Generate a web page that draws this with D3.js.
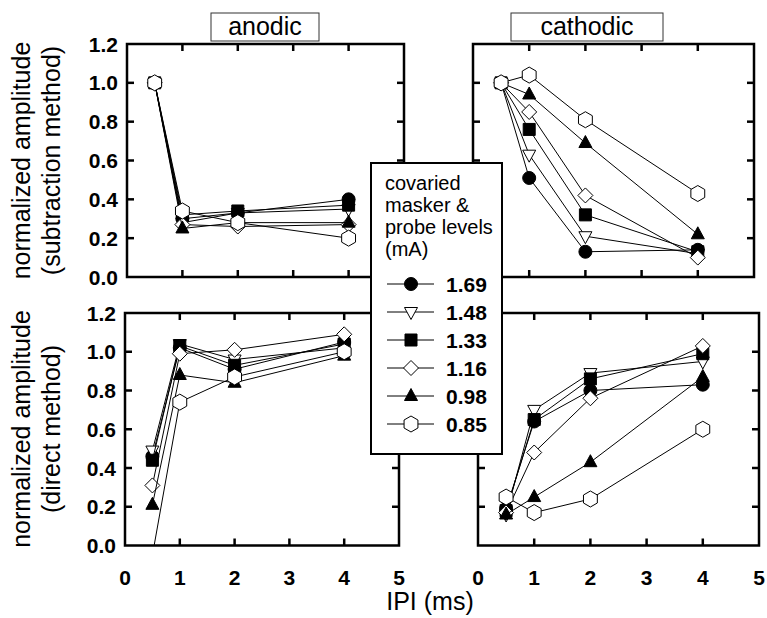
<!DOCTYPE html>
<html>
<head>
<meta charset="utf-8">
<script src="https://cdn.jsdelivr.net/npm/d3@7"></script>
<style>
  body { margin: 0; background: #fff; }
  svg { display: block; font-family: 'Liberation Sans', Arial, sans-serif; }
</style>
</head>
<body>
<svg id="chart" width="767" height="618"></svg>
<script>
// inter-pulse intervals (ms) and covaried masker/probe levels (mA)
const ipi = [0.5, 1, 2, 4];
const levels = ['1.69', '1.48', '1.33', '1.16', '0.98', '0.85'];

// one row per level, one value per IPI
const anodicSubtraction = [
  [1.0, 0.30, 0.33, 0.40],
  [1.0, 0.28, 0.33, 0.35],
  [1.0, 0.32, 0.34, 0.37],
  [1.0, 0.27, 0.26, 0.27],
  [1.0, 0.25, 0.28, 0.28],
  [1.0, 0.34, 0.28, 0.20],
];
const cathodicSubtraction = [
  [1.0, 0.51, 0.13, 0.14],
  [1.0, 0.63, 0.21, 0.12],
  [1.0, 0.76, 0.32, 0.13],
  [1.0, 0.85, 0.42, 0.10],
  [1.0, 0.94, 0.69, 0.22],
  [1.0, 1.04, 0.81, 0.43],
];
const anodicDirect = [
  [0.46, 1.02, 0.91, 1.05],
  [0.49, 1.04, 0.96, 1.02],
  [0.44, 1.03, 0.93, 1.04],
  [0.31, 0.99, 1.01, 1.09],
  [0.21, 0.88, 0.84, 0.98],
  [-0.05, 0.74, 0.87, 1.00],
];
const cathodicDirect = [
  [0.19, 0.64, 0.80, 0.83],
  [0.16, 0.70, 0.89, 0.95],
  [0.18, 0.65, 0.86, 0.99],
  [0.17, 0.48, 0.76, 1.03],
  [0.16, 0.25, 0.43, 0.87],
  [0.25, 0.17, 0.24, 0.60],
];

const xTicks = [0, 1, 2, 3, 4, 5];
const yTicks = [0, 0.2, 0.4, 0.6, 0.8, 1.0, 1.2];
const legendTitle = ['covaried', 'masker &', 'probe levels', '(mA)'];

const markers = [
  { shape: 'circle', fill: '#000' },
  { shape: 'triangleDown', fill: '#fff' },
  { shape: 'square', fill: '#000' },
  { shape: 'diamond', fill: '#fff' },
  { shape: 'triangle', fill: '#000' },
  { shape: 'hexagon', fill: '#fff' },
];

const panels = [
  { id: 'tl', data: anodicSubtraction, x: [127, 404], y: [277, 44], yLabels: true, xLabels: false },
  { id: 'tr', data: cathodicSubtraction, x: [473, 754], y: [277, 44], yLabels: false, xLabels: false },
  { id: 'bl', data: anodicDirect, x: [125, 399], y: [545.5, 313], yLabels: true, xLabels: true },
  { id: 'br', data: cathodicDirect, x: [478, 759], y: [545.5, 313], yLabels: false, xLabels: true },
];

const shapePath = (shape) => {
  const p = d3.path();
  if (shape === 'circle') {
    p.arc(0, 0, 6.5, 0, 2 * Math.PI);
  } else if (shape === 'square') {
    p.rect(-6, -6, 12, 12);
  } else if (shape === 'diamond') {
    p.moveTo(0, -7.5); p.lineTo(7.5, 0); p.lineTo(0, 7.5); p.lineTo(-7.5, 0); p.closePath();
  } else if (shape === 'triangle') {
    p.moveTo(0, -7.5); p.lineTo(6.5, 4.5); p.lineTo(-6.5, 4.5); p.closePath();
  } else if (shape === 'triangleDown') {
    p.moveTo(0, 7.5); p.lineTo(6.5, -4.5); p.lineTo(-6.5, -4.5); p.closePath();
  } else {
    for (let i = 0; i < 6; i += 1) {
      const a = (-90 + 60 * i) * Math.PI / 180;
      if (i === 0) p.moveTo(8 * Math.cos(a), 8 * Math.sin(a));
      else p.lineTo(8 * Math.cos(a), 8 * Math.sin(a));
    }
    p.closePath();
  }
  return p.toString();
};

const svg = d3.select('#chart');
const defs = svg.append('defs');

const drawPanel = (panel) => {
  const xScale = d3.scaleLinear().domain([0, 5]).range(panel.x);
  const yScale = d3.scaleLinear().domain([0, 1.2]).range(panel.y);
  const g = svg.append('g');

  defs.append('clipPath')
    .attr('id', `clip-${panel.id}`)
    .append('rect')
    .attr('x', panel.x[0])
    .attr('y', panel.y[1])
    .attr('width', panel.x[1] - panel.x[0])
    .attr('height', panel.y[0] - panel.y[1]);

  const line = d3.line().x((d, i) => xScale(ipi[i])).y(d => yScale(d));
  const plot = g.append('g').attr('clip-path', `url(#clip-${panel.id})`);

  panel.data.forEach((series, s) => {
    plot.append('path')
      .datum(series)
      .attr('d', line)
      .attr('fill', 'none')
      .attr('stroke', '#000')
      .attr('stroke-width', 1);
    plot.selectAll(null)
      .data(series)
      .enter()
      .append('path')
      .attr('d', shapePath(markers[s].shape))
      .attr('transform', (d, i) => `translate(${xScale(ipi[i])},${yScale(d)})`)
      .attr('fill', markers[s].fill)
      .attr('stroke', '#000')
      .attr('stroke-width', 1);
  });

  // inward ticks on all four sides
  const tickLen = 7;
  [1, 2, 3, 4].forEach((v) => {
    g.append('line').attr('x1', xScale(v)).attr('x2', xScale(v))
      .attr('y1', panel.y[0]).attr('y2', panel.y[0] - tickLen);
    g.append('line').attr('x1', xScale(v)).attr('x2', xScale(v))
      .attr('y1', panel.y[1]).attr('y2', panel.y[1] + tickLen);
  });
  [0.2, 0.4, 0.6, 0.8, 1.0].forEach((v) => {
    g.append('line').attr('x1', panel.x[0]).attr('x2', panel.x[0] + tickLen)
      .attr('y1', yScale(v)).attr('y2', yScale(v));
    g.append('line').attr('x1', panel.x[1]).attr('x2', panel.x[1] - tickLen)
      .attr('y1', yScale(v)).attr('y2', yScale(v));
  });
  g.selectAll('line').attr('stroke', '#000').attr('stroke-width', 2.5);

  g.append('rect')
    .attr('x', panel.x[0])
    .attr('y', panel.y[1])
    .attr('width', panel.x[1] - panel.x[0])
    .attr('height', panel.y[0] - panel.y[1])
    .attr('fill', 'none')
    .attr('stroke', '#000')
    .attr('stroke-width', 2.5);

  if (panel.yLabels) {
    g.selectAll('text.ylab')
      .data(yTicks)
      .enter()
      .append('text')
      .attr('x', panel.x[0] - 9)
      .attr('y', d => yScale(d))
      .attr('dy', '0.36em')
      .attr('text-anchor', 'end')
      .attr('font-size', '21px')
      .attr('font-weight', 'bold')
      .text(d => d.toFixed(1));
  }
  if (panel.xLabels) {
    g.selectAll('text.xlab')
      .data(xTicks)
      .enter()
      .append('text')
      .attr('x', d => xScale(d))
      .attr('y', 585)
      .attr('text-anchor', 'middle')
      .attr('font-size', '21px')
      .attr('font-weight', 'bold')
      .text(d => d);
  }
};

panels.forEach(drawPanel);

// panel titles
const titleBox = (label, x, w) => {
  svg.append('rect')
    .attr('x', x).attr('y', 13).attr('width', w).attr('height', 28)
    .attr('fill', '#fff').attr('stroke', '#333').attr('stroke-width', 1);
  svg.append('text')
    .attr('x', x + w / 2).attr('y', 35)
    .attr('text-anchor', 'middle')
    .attr('font-size', '25px')
    .text(label);
};
titleBox('anodic', 211, 108);
titleBox('cathodic', 511, 152);

// y axis titles
const yTitle = (lines, cy) => {
  const t = svg.append('g').attr('transform', `translate(0,${cy}) rotate(-90)`);
  lines.forEach((l, i) => {
    t.append('text')
      .attr('x', 0).attr('y', 30 + i * 30)
      .attr('text-anchor', 'middle')
      .attr('font-size', '25px')
      .text(l);
  });
};
yTitle(['normalized amplitude', '(subtraction method)'], 160.5);
yTitle(['normalized amplitude', '(direct method)'], 429);

svg.append('text')
  .attr('x', 430).attr('y', 610)
  .attr('text-anchor', 'middle')
  .attr('font-size', '25px')
  .text('IPI (ms)');

// legend
const legend = svg.append('g');
legend.append('rect')
  .attr('x', 371).attr('y', 163).attr('width', 131).attr('height', 291)
  .attr('fill', '#fff').attr('stroke', '#000').attr('stroke-width', 2);
legend.selectAll('text.head')
  .data(legendTitle)
  .enter()
  .append('text')
  .attr('x', 385)
  .attr('y', (d, i) => 190 + i * 22)
  .attr('font-size', '20px')
  .text(d => d);

const entryY = d3.scalePoint().domain(levels).range([284, 424]);
const entry = legend.selectAll('g.entry')
  .data(levels)
  .enter()
  .append('g')
  .attr('transform', d => `translate(0,${entryY(d)})`);
entry.append('line')
  .attr('x1', 387).attr('x2', 434)
  .attr('stroke', '#000').attr('stroke-width', 1);
entry.append('path')
  .attr('d', (d, i) => shapePath(markers[i].shape))
  .attr('transform', 'translate(411,0)')
  .attr('fill', (d, i) => markers[i].fill)
  .attr('stroke', '#000');
entry.append('text')
  .attr('x', 446).attr('dy', '0.36em')
  .attr('font-size', '21px')
  .attr('font-weight', 'bold')
  .text(d => d);
</script>
</body>
</html>
